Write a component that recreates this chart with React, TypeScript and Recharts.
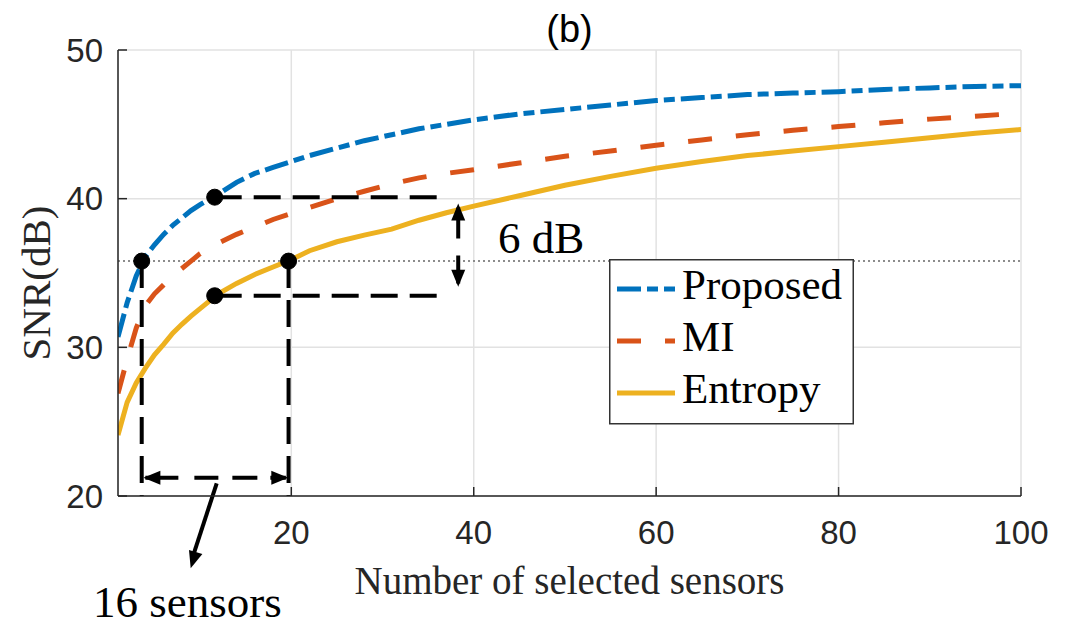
import React from 'react';
import {
  LineChart, Line, XAxis, YAxis, CartesianGrid, ReferenceLine, ReferenceDot, Legend, Label,
} from 'recharts';

// ---------- data ----------
const sensors = [1, 2, 3, 4, 5, 6, 7, 8, 9, 10, 12, 14, 16, 18, 20, 22, 25, 28, 31, 34, 37, 40, 45, 50, 55, 60, 65, 70, 75, 80, 85, 90, 95, 100];
const proposed = [30.7, 33.0, 34.8, 36.1, 36.9, 37.6, 38.2, 38.7, 39.2, 39.6, 40.3, 41.1, 41.7, 42.1, 42.5, 42.9, 43.4, 43.9, 44.3, 44.7, 45.0, 45.3, 45.7, 46.0, 46.3, 46.6, 46.8, 47.0, 47.1, 47.2, 47.35, 47.45, 47.55, 47.6];
const mi = [26.9, 29.2, 31.3, 32.8, 33.6, 34.2, 34.8, 35.3, 35.8, 36.3, 37.0, 37.6, 38.1, 38.6, 39.0, 39.4, 40.0, 40.5, 41.0, 41.4, 41.7, 41.95, 42.4, 42.85, 43.2, 43.6, 43.95, 44.3, 44.6, 44.85, 45.1, 45.35, 45.55, 45.75];
const entropy = [24.1, 26.3, 27.6, 28.6, 29.5, 30.2, 30.95, 31.55, 32.1, 32.6, 33.6, 34.3, 34.9, 35.4, 35.9, 36.5, 37.1, 37.55, 37.95, 38.55, 39.05, 39.5, 40.2, 40.9, 41.5, 42.05, 42.5, 42.9, 43.2, 43.5, 43.8, 44.1, 44.4, 44.65];

const xTicks = [20, 40, 60, 80, 100];
const yTicks = [20, 30, 40, 50];

const title = '(b)';
const xLabel = 'Number of selected sensors';
const yLabel = 'SNR(dB)';

// annotation values (data coordinates)
const refSNR = 35.8;
const dotsPts = [
  { x: 3.6, y: 35.8 },
  { x: 11.6, y: 40.1 },
  { x: 11.6, y: 33.47 },
  { x: 19.7, y: 35.8 },
];
const gapText = '6 dB';
const countText = '16 sensors';

const SERIES = [
  { key: 'proposed', name: 'Proposed', color: '#0072BD', dash: '24 6 11 6' },
  { key: 'mi', name: 'MI', color: '#D95319', dash: '24 24' },
  { key: 'entropy', name: 'Entropy', color: '#EDB120', dash: undefined as string | undefined },
];

const data = sensors.map((s, i) => ({ s, proposed: proposed[i], mi: mi[i], entropy: entropy[i] }));

const SERIF = '"Liberation Serif", "Times New Roman", serif';
const SANS = '"Liberation Sans", Arial, Helvetica, sans-serif';
const AX = '#262626';

const Arrowhead = ({ cx, cy, angle }: { cx?: number; cy?: number; angle: number }) => {
  if (cx == null || cy == null) return null;
  const L = 17, W = 14;
  return (
    <polygon
      points={`0,0 ${-L},${-W / 2} ${-L},${W / 2}`}
      transform={`translate(${cx},${cy}) rotate(${angle})`}
      fill="#000"
    />
  );
};

const renderLegend = () => (
  <svg width={245} height={166} style={{ display: 'block' }}>
    <rect x={0.75} y={0.75} width={243.5} height={164} fill="#fff" stroke="#333" strokeWidth={1.5} />
    {SERIES.map((s, i) => {
      const ly = 30 + i * 52;
      return (
        <g key={s.key}>
          <line x1={8} x2={66} y1={ly} y2={ly} stroke={s.color} strokeWidth={5} strokeDasharray={s.dash} />
          <text x={73} y={ly + 10} fontFamily={SERIF} fontSize={43} fill="#000">{s.name}</text>
        </g>
      );
    })}
  </svg>
);

export default function App() {
  return (
    <div style={{ position: 'absolute', left: 0, top: 0, width: 1074, height: 627, background: '#fff' }}>
      <LineChart width={1074} height={627} data={data} margin={{ top: 50, right: 53, bottom: 91, left: 58 }}>
        <CartesianGrid stroke="#e2e2e2" strokeWidth={1.5} />
        <XAxis
          dataKey="s" type="number" domain={[1, 100]} ticks={xTicks} allowDataOverflow
          height={40} stroke={AX} strokeWidth={1.5} tickSize={-9} tickMargin={34}
          tick={{ fill: AX, fontFamily: SANS, fontSize: 33 }}
        >
          <Label value={xLabel} position="bottom" offset={30} style={{ fontFamily: SERIF, fontSize: 39, fill: AX }} />
        </XAxis>
        <XAxis
          xAxisId="top" orientation="top" dataKey="s" type="number" domain={[1, 100]} ticks={xTicks}
          height={0} stroke={AX} strokeWidth={1.5} tickSize={-9} tickFormatter={() => ''}
        />
        <YAxis
          type="number" domain={[20, 50]} ticks={yTicks} allowDataOverflow width={60}
          stroke={AX} strokeWidth={1.5} tickSize={-9} tickMargin={24}
          tick={{ fill: AX, fontFamily: SANS, fontSize: 33 }}
        >
          <Label
            content={() => {
              const cx = 50, cy = 283;
              return (
                <text x={cx} y={cy} textAnchor="middle" transform={`rotate(-90, ${cx}, ${cy})`}
                  fontFamily={SERIF} fontSize={41} fill={AX}>{yLabel}</text>
              );
            }}
          />
        </YAxis>
        <YAxis
          yAxisId="right" orientation="right" type="number" domain={[20, 50]} ticks={yTicks} width={0}
          stroke={AX} strokeWidth={1.5} tickSize={-9} tickFormatter={() => ''}
        />

        <ReferenceLine y={refSNR} stroke="#8c8c8c" strokeWidth={2} strokeDasharray="2 3" />

        {SERIES.map((s) => (
          <Line
            key={s.key} dataKey={s.key} name={s.name} type="linear" stroke={s.color} strokeWidth={5}
            strokeDasharray={s.dash} dot={false} activeDot={false} isAnimationActive={false}
          />
        ))}

        {/* annotation dashed guides */}
        <ReferenceLine segment={[{ x: 11.6, y: 40.1 }, { x: 37.2, y: 40.1 }]} stroke="#000" strokeWidth={4} strokeDasharray="27 12" />
        <ReferenceLine segment={[{ x: 11.6, y: 33.47 }, { x: 37.2, y: 33.47 }]} stroke="#000" strokeWidth={4} strokeDasharray="27 12" />
        <ReferenceLine segment={[{ x: 3.6, y: 35.8 }, { x: 3.6, y: 20 }]} stroke="#000" strokeWidth={4} strokeDasharray="27 12" />
        <ReferenceLine segment={[{ x: 19.7, y: 35.8 }, { x: 19.7, y: 20 }]} stroke="#000" strokeWidth={4} strokeDasharray="27 12" />

        {/* 6 dB double arrow */}
        <ReferenceLine segment={[{ x: 38.3, y: 39.4 }, { x: 38.3, y: 34.3 }]} stroke="#000" strokeWidth={4} strokeDasharray="31 17 40" />
        <ReferenceDot x={38.3} y={39.68} ifOverflow="visible" shape={(p: any) => <Arrowhead cx={p.cx} cy={p.cy} angle={-90} />} />
        <ReferenceDot x={38.3} y={34.08} ifOverflow="visible" shape={(p: any) => <Arrowhead cx={p.cx} cy={p.cy} angle={90} />} />

        {/* 16 sensors double arrow */}
        <ReferenceLine segment={[{ x: 4.0, y: 21.23 }, { x: 19.4, y: 21.23 }]} stroke="#000" strokeWidth={4} strokeDasharray="33 16 24 14 25 13 30" />
        <ReferenceDot x={3.78} y={21.23} ifOverflow="visible" shape={(p: any) => <Arrowhead cx={p.cx} cy={p.cy} angle={180} />} />
        <ReferenceDot x={19.67} y={21.23} ifOverflow="visible" shape={(p: any) => <Arrowhead cx={p.cx} cy={p.cy} angle={0} />} />

        {/* pointer arrow to label */}
        <ReferenceLine ifOverflow="visible" segment={[{ x: 11.82, y: 20.85 }, { x: 9.3, y: 16.1 }]} stroke="#000" strokeWidth={4} />
        <ReferenceDot x={8.97} y={15.14} ifOverflow="visible" shape={(p: any) => <Arrowhead cx={p.cx} cy={p.cy} angle={107} />} />

        {dotsPts.map((d, i) => (
          <ReferenceDot key={i} x={d.x} y={d.y} r={8} fill="#000" stroke="#000" ifOverflow="visible" />
        ))}

        <ReferenceDot x={42.67} y={36.34} ifOverflow="visible"
          shape={(p: any) => <text x={p.cx} y={p.cy} fontFamily={SERIF} fontSize={45} fill="#000">{gapText}</text>} />
        <ReferenceDot x={-1.74} y={11.85} ifOverflow="visible"
          shape={(p: any) => <text x={p.cx} y={p.cy} fontFamily={SERIF} fontSize={45} fill="#000">{countText}</text>} />
        <ReferenceDot x={50.5} y={50.54} ifOverflow="visible"
          shape={(p: any) => <text x={p.cx} y={p.cy} textAnchor="middle" fontFamily={SANS} fontSize={38} fill="#000">{title}</text>} />

        <Legend
          layout="horizontal" verticalAlign="middle" align="center"
          content={renderLegend}
          wrapperStyle={{ position: 'absolute', left: 609, top: 259, width: 245, height: 166, bottom: 'auto', right: 'auto' }}
        />
      </LineChart>
    </div>
  );
}
